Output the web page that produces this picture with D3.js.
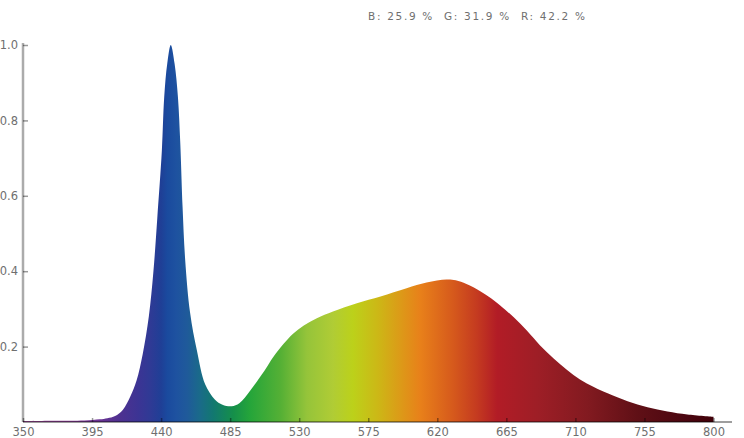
<!DOCTYPE html>
<html>
<head>
<meta charset="utf-8">
<script src="https://cdn.jsdelivr.net/npm/d3@7"></script>
<style>
  html, body { margin: 0; padding: 0; background: #fff; }
  svg { display: block; }
  text { font-family: "DejaVu Sans", sans-serif; }
</style>
</head>
<body>
<svg id="chart" width="744" height="438"></svg>
<script>
// ---- data ----
const wavelengths = [350, 370, 390, 400, 405, 410, 415, 420, 424, 428, 432, 435, 437.5, 440.5, 442, 444, 446.3,
  448.8, 451, 452.5, 454, 455.7, 458.9, 463.3, 468.7, 475, 480, 486, 491, 498, 504.6, 508, 513, 520, 526, 533,
  541.5, 552, 567.6, 583, 600, 613, 626, 632, 639, 648, 655, 661, 670, 678.5, 687, 696, 704.6, 713, 722, 731,
  744, 757, 770, 783, 800];
const intensity = [0.002, 0.003, 0.004, 0.007, 0.01, 0.016, 0.032, 0.068, 0.11, 0.18, 0.28, 0.40, 0.54, 0.72, 0.86, 0.95, 1.0,
  0.95, 0.86, 0.74, 0.57, 0.43, 0.29, 0.19, 0.10, 0.06, 0.046, 0.042, 0.05, 0.083, 0.12, 0.14, 0.172, 0.208, 0.234, 0.256,
  0.275, 0.293, 0.315, 0.333, 0.355, 0.37, 0.378, 0.376, 0.366, 0.347, 0.328, 0.309, 0.277, 0.242, 0.203, 0.168, 0.138, 0.113, 0.093, 0.076,
  0.055, 0.039, 0.028, 0.02, 0.014];

const xTicks = [350, 395, 440, 485, 530, 575, 620, 665, 710, 755, 800];
const yTicks = [0.2, 0.4, 0.6, 0.8, 1.0];
const titleText = "B: 25.9 %  G: 31.9 %  R: 42.2 %";

const colorStopNm = [350, 380, 400, 413, 425, 433, 440, 444, 450, 457, 465, 474, 487, 498, 518, 535, 552, 565, 581, 596, 609, 630, 646, 659, 685, 718, 750, 783, 800];
const colorStopHex = ["#a0509a", "#8e3f98", "#6a3394", "#4e3190", "#3c3494", "#2f3a95", "#1f3f96", "#1a4a9e", "#1e52a0", "#1f5a9a",
  "#1a6a8a", "#127870", "#158f4a", "#25a53a", "#55b035", "#95c43a", "#b0cc35", "#bcd11a", "#ccb816", "#dc9a18", "#e8801a",
  "#d65a1c", "#c43a20", "#b21c26", "#9e1e26", "#821a20", "#601016", "#4a0610", "#400008"];

// ---- layout ----
const W = 744, H = 438;
const svg = d3.select("#chart");
const x = d3.scaleLinear().domain([350, 800]).range([23, 713.5]);
const y = d3.scaleLinear().domain([0, 1]).range([422, 45]);

// gradient
const defs = svg.append("defs");
const grad = defs.append("linearGradient")
  .attr("id", "spec")
  .attr("gradientUnits", "userSpaceOnUse")
  .attr("x1", x(350)).attr("x2", x(800))
  .attr("y1", 0).attr("y2", 0);
colorStopNm.forEach((nm, i) => {
  grad.append("stop")
    .attr("offset", (nm - 350) / 450)
    .attr("stop-color", colorStopHex[i]);
});

const data = wavelengths.map((w, i) => ({ w, v: intensity[i] }));

const area = d3.area()
  .x(d => x(d.w))
  .y0(y(0))
  .y1(d => y(d.v))
  .curve(d3.curveCatmullRom.alpha(0.5));

svg.append("path")
  .datum(data)
  .attr("d", area)
  .attr("fill", "url(#spec)");

// x axis
const xAxis = d3.axisBottom(x)
  .tickValues(xTicks)
  .tickFormat(d3.format("d"))
  .tickSizeInner(-4)
  .tickSizeOuter(0)
  .tickPadding(6);
const gx = svg.append("g")
  .attr("transform", `translate(0,${y(0)})`)
  .call(xAxis);
gx.select(".domain").remove();
gx.insert("line", ":first-child")
  .attr("x1", x(350)).attr("x2", W - 12)
  .attr("y1", 0).attr("y2", 0)
  .attr("stroke", "rgba(0,0,0,0.38)")
  .attr("stroke-width", 2);
gx.selectAll(".tick line")
  .attr("stroke", "rgba(0,0,0,0.4)")
  .attr("stroke-width", 1.5);
gx.selectAll(".tick text")
  .attr("fill", "#6f6f6f")
  .style("font-size", "11.5px")
  .style("font-family", "'DejaVu Sans', sans-serif");

// y axis
const yAxis = d3.axisLeft(y)
  .tickValues(yTicks)
  .tickFormat(d3.format(".1f"))
  .tickSizeInner(-5)
  .tickSizeOuter(0)
  .tickPadding(5);
const gy = svg.append("g")
  .attr("transform", `translate(${x(350)},0)`)
  .call(yAxis);
gy.select(".domain").remove();
gy.insert("line", ":first-child")
  .attr("x1", 0).attr("x2", 0)
  .attr("y1", y(0)).attr("y2", y(1) - 2)
  .attr("stroke", "rgba(0,0,0,0.33)")
  .attr("stroke-width", 2.5);
gy.selectAll(".tick line")
  .attr("stroke", "rgba(0,0,0,0.4)")
  .attr("stroke-width", 1.5);
gy.selectAll(".tick text")
  .attr("fill", "#6f6f6f")
  .style("font-size", "11.5px")
  .style("font-family", "'DejaVu Sans', sans-serif");

// title
svg.append("text")
  .attr("x", 368)
  .attr("y", 19.5)
  .attr("fill", "#6f6f6f")
  .attr("textLength", 217)
  .attr("lengthAdjust", "spacing")
  .style("font-size", "10.5px")
  .style("white-space", "pre")
  .attr("xml:space", "preserve")
  .text(titleText);
</script>
</body>
</html>
